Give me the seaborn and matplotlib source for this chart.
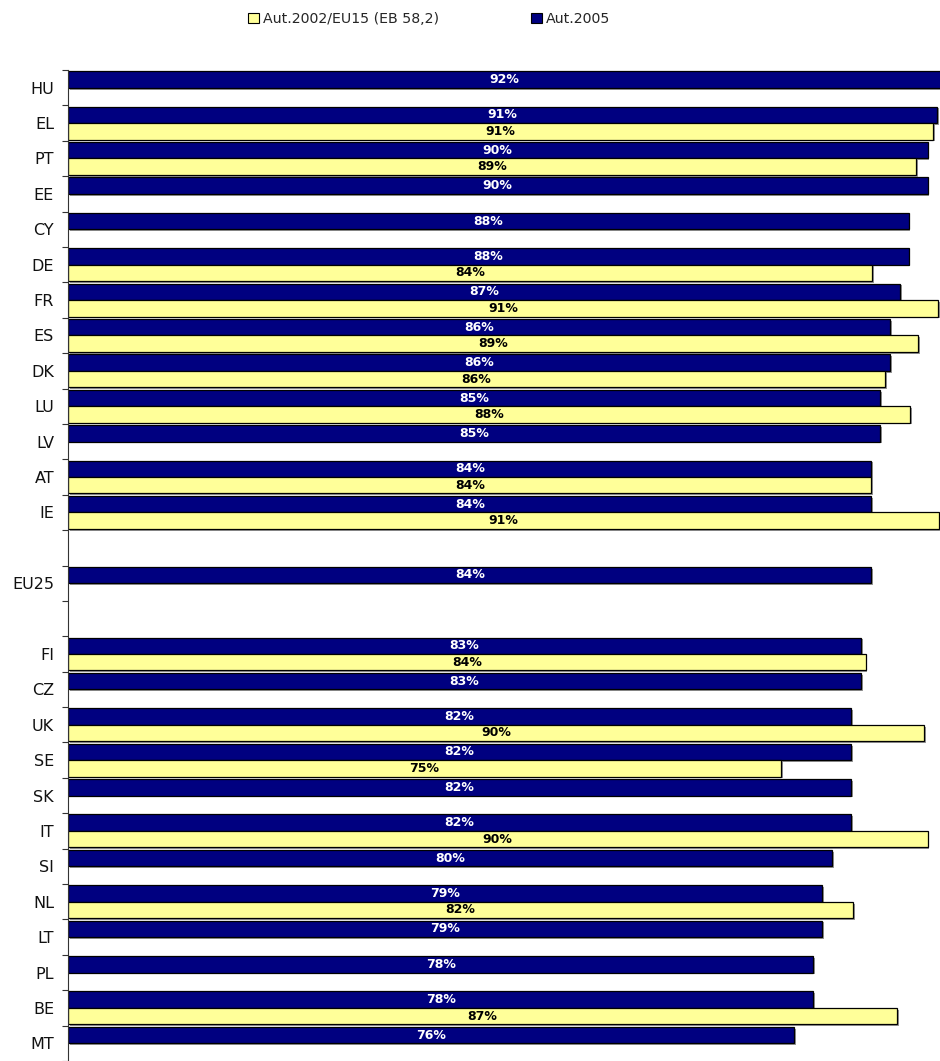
import numpy as np
import pandas as pd
import matplotlib
matplotlib.use("Agg")
import matplotlib.pyplot as plt
import matplotlib.patheffects as pe
from matplotlib.patches import Patch
import seaborn as sns

# ---- data ----
categories = ["HU", "EL", "PT", "EE", "CY", "DE", "FR", "ES", "DK", "LU", "LV", "AT", "IE",
              " ", "EU25", "  ",
              "FI", "CZ", "UK", "SE", "SK", "IT", "SI", "NL", "LT", "PL", "BE", "MT"]
tick_labels = [c.strip() for c in categories]
series_2005 = "Aut.2005"
series_2002 = "Aut.2002/EU15 (EB 58,2)"
values_2005 = [92.0, 91.2, 90.2, 90.2, 88.2, 88.2, 87.3, 86.3, 86.3, 85.2, 85.2, 84.3, 84.3,
               np.nan, 84.3, np.nan,
               83.2, 83.2, 82.2, 82.2, 82.2, 82.2, 80.2, 79.1, 79.1, 78.2, 78.2, 76.2]
values_2002 = [np.nan, 90.8, 89.0, np.nan, np.nan, 84.4, 91.3, 89.2, 85.7, 88.4, np.nan, 84.3, 91.4,
               np.nan, np.nan, np.nan,
               83.7, np.nan, 89.8, 74.8, np.nan, 90.2, np.nan, 82.4, np.nan, np.nan, 87.0, np.nan]

rows = []
for c, v5, v2 in zip(categories, values_2005, values_2002):
    rows.append((c, series_2005, v5))
    rows.append((c, series_2002, v2))
df = pd.DataFrame(rows, columns=["country", "series", "value"]).dropna()

colors = {series_2005: "#000080", series_2002: "#FFFF99"}
text_colors = {series_2005: "white", series_2002: "black"}

sns.set_style("white")
plt.rcParams["font.family"] = ["DejaVu Sans"]

W, H = 940, 1061
fig = plt.figure(figsize=(W / 100, H / 100), dpi=100)
ax = fig.add_axes([68 / W, 0, (W - 68) / W, (H - 70) / H])

sns.barplot(data=df, x="value", y="country", hue="series", order=categories,
            hue_order=[series_2005, series_2002], palette=colors, saturation=1, orient="y",
            width=0.93, gap=0, edgecolor="black", linewidth=0.9, legend=False,
            errorbar=None, ax=ax)

for p in ax.patches:
    p.set_path_effects([pe.SimplePatchShadow(offset=(1.3, -1.3), shadow_rgbFace="#8c8c8c", alpha=0.9),
                        pe.Normal()])

for cont, s in zip(ax.containers, [series_2005, series_2002]):
    ax.bar_label(cont, fmt="{:.0f}%", label_type="center", color=text_colors[s],
                 fontsize=9, fontweight="bold")

ax.set_xlim(0, 91.5)
ax.set_ylim(len(categories) - 0.5, -0.5)
ax.set_xlabel("")
ax.set_ylabel("")
ax.set_xticks([])
ax.set_yticks(range(len(categories)))
ax.set_yticklabels(tick_labels, fontsize=11.5, color="#111111")
ax.tick_params(axis="y", which="major", length=0, pad=10)
ax.set_yticks(np.arange(-0.5, len(categories), 1), minor=True)
ax.tick_params(axis="y", which="minor", length=4, width=0.8, color="#333333", direction="out", left=True)
for side in ["top", "right", "bottom"]:
    ax.spines[side].set_visible(False)
ax.spines["left"].set_color("#333333")
ax.spines["left"].set_linewidth(0.8)

handles = [Patch(facecolor=colors[series_2002], edgecolor="black", linewidth=0.8, label=series_2002),
           Patch(facecolor=colors[series_2005], edgecolor="black", linewidth=0.8, label=series_2005)]
fig.legend(handles=handles, loc="upper center", bbox_to_anchor=(0.457, 1.001), ncol=2,
           frameon=False, fontsize=10.2, handlelength=0.75, handleheight=0.75,
           handletextpad=0.3, columnspacing=6.5)

fig.savefig("out.png", dpi=100)
